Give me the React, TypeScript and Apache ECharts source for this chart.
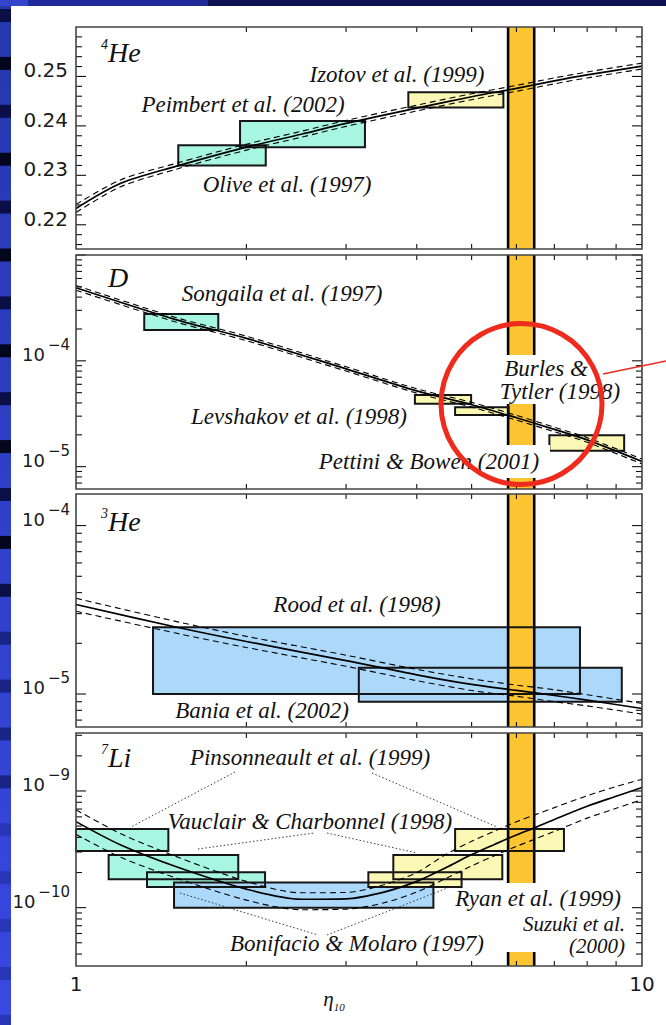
import React, { useEffect, useRef } from 'react';
import * as echarts from 'echarts';

// ---------- x axis (eta_10) ----------
const etaRange = [1, 10];
const xTickLabels = ['1', '10'];
const xMinorTicks = [2, 3, 4, 5, 6, 7, 8, 9];
const bandEta = [5.8, 6.45];
const logMinorMultipliers = [2, 3, 4, 5, 6, 7, 8, 9];

// ---------- 4He ----------
const he4Range = [0.2151, 0.26];
const he4LabelTicks = [0.22, 0.23, 0.24, 0.25];
const he4Eta = [1, 1.2, 1.5, 2, 2.5, 3, 4, 5, 6, 7, 8, 10];
const he4Mid = [0.2233, 0.2284, 0.2318, 0.2357, 0.2383, 0.2405, 0.2436, 0.2459, 0.2476, 0.2491, 0.2503, 0.2521];
const he4Hi = [0.2241, 0.2291, 0.2324, 0.2363, 0.2389, 0.2411, 0.2442, 0.2465, 0.2482, 0.2497, 0.2509, 0.2527];
const he4Lo = [0.2225, 0.2277, 0.2312, 0.2351, 0.2377, 0.2399, 0.2430, 0.2453, 0.2470, 0.2485, 0.2497, 0.2515];
// etaLo, etaHi, yLo, yHi, colour (0 green, 1 yellow, 2 blue)
const he4Boxes = [
  [1.516, 2.164, 0.2320, 0.2361, 0],
  [1.949, 3.24, 0.2357, 0.2410, 0],
  [3.865, 5.69, 0.2437, 0.2468, 1],
];

// ---------- D ----------
const dRange = [6.15e-6, 1e-3];
const dLabelTicks = [1e-4, 1e-5];
const dEta = [1, 1.5, 2, 3, 4, 5, 6, 7, 8, 10];
const dMid = [4.9e-4, 2.45e-4, 1.63e-4, 8.4e-5, 5.2e-5, 3.85e-5, 2.9e-5, 2.25e-5, 1.79e-5, 1.12e-5];
const dHi = [5.15e-4, 2.57e-4, 1.71e-4, 8.8e-5, 5.45e-5, 4.05e-5, 3.05e-5, 2.36e-5, 1.88e-5, 1.18e-5];
const dLo = [4.65e-4, 2.33e-4, 1.55e-4, 8.0e-5, 4.95e-5, 3.65e-5, 2.75e-5, 2.14e-5, 1.7e-5, 1.06e-5];
const dBoxes = [
  [1.32, 1.784, 1.96e-4, 2.77e-4, 0],
  [3.97, 4.99, 3.92e-5, 4.76e-5, 1],
  [4.675, 5.81, 3.08e-5, 3.65e-5, 1],
  [6.86, 9.3, 1.41e-5, 1.98e-5, 1],
];

// ---------- 3He ----------
const he3Range = [6.37e-6, 1.54e-4];
const he3LabelTicks = [1e-4, 1e-5];
const he3Eta = [1, 1.5, 2, 3, 4, 5, 6, 7, 8, 10];
const he3Mid = [3.4e-5, 2.5e-5, 2.05e-5, 1.58e-5, 1.3e-5, 1.14e-5, 1.05e-5, 9.8e-6, 9.2e-6, 8.2e-6];
const he3Hi = [3.7e-5, 2.7e-5, 2.2e-5, 1.7e-5, 1.4e-5, 1.23e-5, 1.13e-5, 1.06e-5, 9.9e-6, 8.8e-6];
const he3Lo = [3.1e-5, 2.3e-5, 1.89e-5, 1.46e-5, 1.2e-5, 1.05e-5, 9.7e-6, 9.0e-6, 8.5e-6, 7.6e-6];
const he3Boxes = [
  [1.368, 7.77, 1.0e-5, 2.49e-5, 2],
  [3.16, 9.21, 9.0e-6, 1.43e-5, 2],
];

// ---------- 7Li ----------
const liRange = [3.16e-11, 3.14e-9];
const liLabelTicks = [1e-9, 1e-10];
const liEta = [1, 1.2, 1.5, 2, 2.5, 3, 3.5, 4, 4.5, 5, 5.5, 6, 6.5, 7, 8, 9, 10];
const liMid = [5.46e-10, 3.44e-10, 2.25e-10, 1.44e-10, 1.18e-10, 1.19e-10, 1.36e-10, 1.68e-10, 2.2e-10, 2.85e-10, 3.5e-10, 4.2e-10, 4.9e-10, 5.7e-10, 7.4e-10, 9.0e-10, 1.07e-9];
const liHi = [6.9e-10, 4.3e-10, 2.75e-10, 1.68e-10, 1.34e-10, 1.35e-10, 1.57e-10, 2.0e-10, 2.85e-10, 3.7e-10, 4.55e-10, 5.45e-10, 6.3e-10, 7.2e-10, 9.1e-10, 1.09e-9, 1.26e-9];
const liLo = [4.25e-10, 2.7e-10, 1.8e-10, 1.16e-10, 0.96e-10, 0.97e-10, 1.1e-10, 1.36e-10, 1.78e-10, 2.28e-10, 2.8e-10, 3.35e-10, 3.9e-10, 4.5e-10, 5.85e-10, 7.1e-10, 8.45e-10];
const liBoxes = [
  [1.0, 1.456, 3.06e-10, 4.72e-10, 0],
  [1.142, 1.935, 1.75e-10, 2.83e-10, 0],
  [1.335, 2.158, 1.5e-10, 2.01e-10, 0],
  [1.49, 4.28, 1.0e-10, 1.64e-10, 2],
  [3.285, 4.8, 1.5e-10, 2.01e-10, 1],
  [3.636, 5.665, 1.75e-10, 2.83e-10, 1],
  [4.675, 7.28, 3.06e-10, 4.72e-10, 1],
];

// ---------- styling ----------
const BOX_FILLS = ['#a6f6e1', '#fbf7b4', '#acd8f9'];
const BAND_FILL = '#fdc532';
const INK = '#111';
const LABEL_INK = '#1a1a1a';
const LABEL_FONT = 'DejaVu Sans';
const LEFT = 76;
const WIDTH = 566;
const GRIDS = [
  { top: 27, height: 222 },
  { top: 255, height: 234 },
  { top: 494, height: 233 },
  { top: 733, height: 233 },
];

function logMajors(range: number[]) {
  const out: number[] = [];
  for (let k = Math.floor(Math.log10(range[0])); k <= Math.ceil(Math.log10(range[1])); k++) {
    const v = Math.pow(10, k);
    if (v > range[0] && v < range[1] * 1.0001) out.push(v);
  }
  return out;
}
function logMinors(range: number[]) {
  const out: number[] = [];
  for (let k = Math.floor(Math.log10(range[0])); k <= Math.ceil(Math.log10(range[1])); k++) {
    for (const m of logMinorMultipliers) {
      const v = m * Math.pow(10, k);
      if (v > range[0] && v < range[1]) out.push(v);
    }
  }
  return out;
}
function he4Minors() {
  const out: number[] = [];
  for (let n = 108; n < 130; n++) if (n % 5 !== 0) out.push(n * 0.002);
  return out;
}

const panels = [
  { range: he4Range, log: false, labels: he4LabelTicks, majors: he4LabelTicks, minors: he4Minors(), eta: he4Eta, mid: he4Mid, hi: he4Hi, lo: he4Lo, boxes: he4Boxes },
  { range: dRange, log: true, labels: dLabelTicks, majors: logMajors(dRange), minors: logMinors(dRange), eta: dEta, mid: dMid, hi: dHi, lo: dLo, boxes: dBoxes },
  { range: he3Range, log: true, labels: he3LabelTicks, majors: logMajors(he3Range), minors: logMinors(he3Range), eta: he3Eta, mid: he3Mid, hi: he3Hi, lo: he3Lo, boxes: he3Boxes },
  { range: liRange, log: true, labels: liLabelTicks, majors: logMajors(liRange), minors: logMinors(liRange), eta: liEta, mid: liMid, hi: liHi, lo: liLo, boxes: liBoxes },
];

const rectFromBox = (api: any) => {
  const p1 = api.coord([api.value(0), api.value(3)]);
  const p2 = api.coord([api.value(1), api.value(2)]);
  return { x: p1[0], y: p1[1], width: p2[0] - p1[0], height: p2[1] - p1[1] };
};
const boxFillItem = (params: any, api: any) => ({
  type: 'rect',
  shape: rectFromBox(api),
  style: { fill: BOX_FILLS[api.value(4)], stroke: 'transparent' },
});
const boxEdgeItem = (params: any, api: any) => ({
  type: 'rect',
  shape: rectFromBox(api),
  style: { fill: 'transparent', stroke: '#161616', lineWidth: 2 },
});
const bandItem = (params: any, api: any) => {
  const cs = params.coordSys;
  const a = api.coord([api.value(0), api.value(2)])[0];
  const b = api.coord([api.value(1), api.value(2)])[0];
  return {
    type: 'group',
    children: [
      { type: 'rect', shape: { x: a, y: cs.y, width: b - a, height: cs.height }, style: { fill: BAND_FILL } },
      { type: 'line', shape: { x1: a, y1: cs.y, x2: a, y2: cs.y + cs.height }, style: { stroke: '#000', lineWidth: 2.6 } },
      { type: 'line', shape: { x1: b, y1: cs.y, x2: b, y2: cs.y + cs.height }, style: { stroke: '#000', lineWidth: 2.6 } },
    ],
  };
};

const txt = (text: string, x: number, y: number, size: number, align: string) => ({
  type: 'text',
  x,
  y,
  style: {
    text, fontFamily: LABEL_FONT, fontSize: size, fill: LABEL_INK,
    align, verticalAlign: 'middle', textAlign: align, textVerticalAlign: 'middle',
  },
});

// ticks (kind 0 major y, 1 minor y, 2 minor x) and y tick labels (flag in dim 3)
const tickItemFor = (isLog: boolean) => (params: any, api: any) => {
  const cs = params.coordSys;
  const kind = api.value(2);
  const p = api.coord([api.value(0), api.value(1)]);
  const st = { stroke: INK, lineWidth: 1.1 };
  if (kind === 2) {
    const L = 5;
    return {
      type: 'group',
      children: [
        { type: 'line', shape: { x1: p[0], y1: cs.y, x2: p[0], y2: cs.y + L }, style: st },
        { type: 'line', shape: { x1: p[0], y1: cs.y + cs.height - L, x2: p[0], y2: cs.y + cs.height }, style: st },
      ],
    };
  }
  const L = kind === 0 ? 10 : 6;
  const children: any[] = [
    { type: 'line', shape: { x1: cs.x, y1: p[1], x2: cs.x + L, y2: p[1] }, style: st },
    { type: 'line', shape: { x1: cs.x + cs.width - L, y1: p[1], x2: cs.x + cs.width, y2: p[1] }, style: st },
  ];
  if (api.value(3) === 1) {
    const v = api.value(1);
    if (!isLog) {
      children.push(txt(v.toFixed(2), cs.x - 8, p[1] - 6, 20, 'right'));
    } else {
      const e = Math.round(Math.log10(v));
      const expDigits = String(-e);
      const expSize = 15;
      const expW = expSize * (0.838 + 0.636 * expDigits.length);
      const right = cs.x - 6;
      children.push(txt('\u2212' + expDigits, right, p[1] - 16, expSize, 'right'));
      children.push(txt('10', right - expW - 3, p[1] - 6.5, 18, 'right'));
    }
  }
  return { type: 'group', children };
};

function buildOption() {
  const grid = GRIDS.map((g) => ({ left: LEFT, width: WIDTH, top: g.top, height: g.height, show: false }));
  const xAxis = GRIDS.map((g, i) => ({
    type: 'log',
    logBase: 10,
    gridIndex: i,
    min: etaRange[0],
    max: etaRange[1],
    axisLine: { show: false },
    axisTick: { show: false },
    splitLine: { show: false },
    axisLabel: {
      show: i === 3,
      formatter: (v: number) => {
        const s = String(Math.round(v));
        return xTickLabels.includes(s) ? s : '';
      },
      fontFamily: LABEL_FONT,
      fontSize: 20,
      color: LABEL_INK,
      margin: 8,
    },
  }));
  const yAxis = panels.map((p, i) => ({
    type: p.log ? 'log' : 'value',
    logBase: 10,
    gridIndex: i,
    min: p.range[0],
    max: p.range[1],
    axisLine: { show: false },
    axisTick: { show: false },
    splitLine: { show: false },
    axisLabel: { show: false },
  }));

  const series: any[] = [];
  panels.forEach((p, i) => {
    const yRef = p.range[0];
    series.push({
      type: 'custom', xAxisIndex: i, yAxisIndex: i, z: 2, silent: true, clip: false,
      renderItem: boxFillItem, encode: { x: [0, 1], y: [2, 3] }, data: p.boxes,
    });
    series.push({
      type: 'custom', xAxisIndex: i, yAxisIndex: i, z: 3, silent: true, clip: false,
      renderItem: bandItem, encode: { x: [0, 1], y: 2 }, data: [[bandEta[0], bandEta[1], yRef]],
    });
    series.push({
      type: 'custom', xAxisIndex: i, yAxisIndex: i, z: 4, silent: true, clip: false,
      renderItem: boxEdgeItem, encode: { x: [0, 1], y: [2, 3] }, data: p.boxes,
    });
    const curves = [
      { vals: p.hi, dashed: true },
      { vals: p.lo, dashed: true },
      { vals: p.mid, dashed: false },
    ];
    curves.forEach((c) => {
      series.push({
        type: 'line', xAxisIndex: i, yAxisIndex: i, z: 5, silent: true,
        data: p.eta.map((e, k) => [e, c.vals[k]]),
        smooth: 0.3, showSymbol: false, symbol: 'none',
        lineStyle: c.dashed ? { color: '#000', width: 1.1, type: [6, 4] } : { color: '#000', width: 1.7 },
      });
    });
    const isLabel = (v: number) =>
      p.labels.some((l) => (p.log ? Math.abs(Math.log10(l) - Math.log10(v)) < 0.01 : Math.abs(l - v) < 1e-6));
    const ticks: any[] = [];
    p.majors.forEach((v) => ticks.push([etaRange[0], v, 0, isLabel(v) ? 1 : 0]));
    p.minors.forEach((v) => ticks.push([etaRange[0], v, 1, 0]));
    xMinorTicks.forEach((v) => ticks.push([v, yRef, 2, 0]));
    series.push({
      type: 'custom', xAxisIndex: i, yAxisIndex: i, z: 6, silent: true, clip: false,
      renderItem: tickItemFor(p.log), encode: { x: 0, y: 1 }, data: ticks,
    });
  });

  // ---------- graphic decorations ----------
  const g: any[] = [];
  g.push({ type: 'rect', z: 0, shape: { x: 0, y: 0, width: 666, height: 6 }, style: { fill: '#0c1252' } });
  g.push({ type: 'rect', z: 0, shape: { x: 28, y: 0, width: 180, height: 6 }, style: { fill: '#1f2b98' } });
  g.push({ type: 'rect', z: 0, shape: { x: 0, y: 0, width: 28, height: 6 }, style: { fill: '#3445cc' } });
  g.push({
    type: 'rect', z: 0, shape: { x: 0, y: 6, width: 11, height: 1019 },
    style: { fill: new echarts.graphic.LinearGradient(0, 0, 0, 1, [{ offset: 0, color: '#2737ae' }, { offset: 1, color: '#3848e2' }]) },
  });
  for (let k = 0; k < 22; k++) {
    const y0 = 9 + 47.9 * k;
    const t = k / 21;
    const dark = t < 0.6 ? (k % 2 === 0 ? '#0a0f48' : '#04061e') : t < 0.8 ? '#1a2486' : '#2a36b8';
    g.push({ type: 'rect', z: 1, shape: { x: 0, y: y0, width: 11, height: 13 }, style: { fill: dark } });
  }
  GRIDS.forEach((gr) => {
    g.push({ type: 'rect', z: 12, shape: { x: LEFT, y: gr.top, width: WIDTH, height: gr.height }, style: { fill: 'transparent', stroke: '#444', lineWidth: 1.6 } });
  });
  const masks = [
    [494, 355, 132, 49],
    [308, 445, 242, 33],
    [466, 883, 162, 69],
  ];
  masks.forEach((m) => g.push({ type: 'rect', z: 14, shape: { x: m[0], y: m[1], width: m[2], height: m[3] }, style: { fill: '#fff' } }));

  const leaders = [
    [[235, 772], [131, 827]],
    [[372, 773], [497, 827]],
    [[198, 849], [314, 833]],
    [[327, 833], [417, 853]],
    [[180, 893], [318, 935]],
    [[327, 935], [450, 887]],
  ];
  leaders.forEach((pts) => g.push({ type: 'polyline', z: 15, shape: { points: pts }, style: { stroke: '#222', lineWidth: 0.9, lineDash: [1.5, 2.2], fill: 'transparent' } }));

  const ann = (text: string, x: number, y: number, align = 'center', size = 23) => ({
    type: 'text', z: 20, x, y,
    style: {
      text, fontFamily: 'Liberation Serif', fontStyle: 'italic', fontSize: size, fill: '#111',
      align, verticalAlign: 'middle', textAlign: align, textVerticalAlign: 'middle',
    },
  });
  g.push(ann('Izotov et al. (1999)', 397, 74));
  g.push(ann('Peimbert et al. (2002)', 243, 104));
  g.push(ann('Olive et al. (1997)', 287, 184));
  g.push(ann('Songaila et al. (1997)', 282, 293));
  g.push(ann('Levshakov et al. (1998)', 299, 416));
  g.push(ann('Pettini & Bowen (2001)', 429, 461));
  g.push(ann('Burles &', 546, 368));
  g.push(ann('Tytler (1998)', 560, 391));
  g.push(ann('Rood et al. (1998)', 357, 604));
  g.push(ann('Bania et al. (2002)', 262, 710));
  g.push(ann('Pinsonneault et al. (1999)', 310, 757));
  g.push(ann('Vauclair & Charbonnel (1998)', 310, 821));
  g.push(ann('Bonifacio & Molaro (1997)', 357, 943));
  g.push(ann('Ryan et al. (1999)', 538, 898));
  g.push(ann('Suzuki et al.', 625, 924, 'right', 21));
  g.push(ann('(2000)', 625, 946, 'right', 21));

  const title = (sup: string, main: string, x: number, y: number) => ({
    type: 'text', z: 20, x, y,
    style: {
      text: `{s|${sup}}{m|${main}}`,
      align: 'left', verticalAlign: 'middle', textAlign: 'left', textVerticalAlign: 'middle',
      rich: {
        s: { fontFamily: 'Liberation Serif', fontStyle: 'italic', fontSize: 14, fill: '#111', verticalAlign: 'top' },
        m: { fontFamily: 'Liberation Serif', fontStyle: 'italic', fontSize: 28, fill: '#111', lineHeight: 30 },
      },
    },
  });
  g.push(title('4', 'He', 101, 52));
  g.push({
    type: 'text', z: 20, x: 108, y: 277,
    style: { text: 'D', fontFamily: 'Liberation Serif', fontStyle: 'italic', fontSize: 28, fill: '#111', align: 'left', verticalAlign: 'middle', textAlign: 'left', textVerticalAlign: 'middle' },
  });
  g.push(title('3', 'He', 101, 521));
  g.push(title('7', 'Li', 101, 757));

  g.push({
    type: 'text', z: 20, x: 334, y: 1000,
    style: {
      text: '{e|\u03b7}{s|10}',
      align: 'center', verticalAlign: 'middle', textAlign: 'center', textVerticalAlign: 'middle',
      rich: {
        e: { fontFamily: 'Liberation Serif', fontStyle: 'italic', fontSize: 21, fill: '#111', lineHeight: 24, verticalAlign: 'top' },
        s: { fontFamily: 'Liberation Serif', fontStyle: 'italic', fontSize: 11, fill: '#111', verticalAlign: 'bottom' },
      },
    },
  });

  g.push({ type: 'circle', z: 30, shape: { cx: 521.5, cy: 404, r: 80.5 }, style: { fill: 'transparent', stroke: '#ee2b1c', lineWidth: 5 } });
  g.push({ type: 'line', z: 30, shape: { x1: 603, y1: 374, x2: 666, y2: 361 }, style: { stroke: '#ee2b1c', lineWidth: 1.6 } });

  return {
    animation: false,
    backgroundColor: '#ffffff',
    grid,
    xAxis,
    yAxis,
    series,
    graphic: { elements: g },
  };
}

export default function App() {
  const ref = useRef<HTMLDivElement>(null);
  useEffect(() => {
    if (!ref.current) return;
    const chart = echarts.init(ref.current, null, { renderer: 'svg' });
    chart.setOption(buildOption() as any);
    return () => chart.dispose();
  }, []);
  return <div ref={ref} style={{ position: 'fixed', left: 0, top: 0, width: 666, height: 1025 }} />;
}
